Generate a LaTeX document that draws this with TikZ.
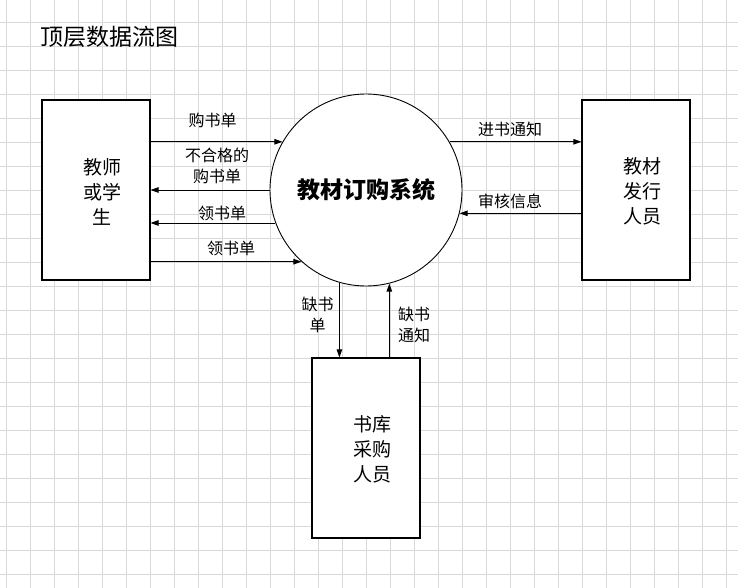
\documentclass[tikz,border=0pt]{standalone}
\usepackage{fontspec}
\usepackage{tikz}
\usetikzlibrary{positioning,calc,arrows.meta}
\newfontfamily\cjk{Noto Sans CJK SC}
\definecolor{gridline}{HTML}{d9d9d9}

\begin{document}
\begin{tikzpicture}[x=1pt, y=-1pt,
    entity/.style={draw, line width=1.1pt, fill=white, minimum width=108pt, minimum height=180pt, inner sep=0pt},
    proc/.style={draw, circle, line width=0.9pt, fill=white, minimum size=192pt, inner sep=0pt},
    flow/.style={line width=0.9pt, -{Triangle[length=8pt,width=5.5pt]}},
    boxtext/.style={align=center, inner sep=0pt, font=\cjk\fontsize{19}{25}\selectfont},
    flowlabel/.style={align=center, inner sep=0pt, font=\cjk\fontsize{16}{21}\selectfont}]
  \useasboundingbox (0,0) rectangle (738,588);

  % background grid (24px cells)
  \foreach \gx in {0,...,30} {
    \draw[gridline, line width=0.8pt] (6.5+24*\gx, 0) -- (6.5+24*\gx, 588);
  }
  \foreach \gy in {0,...,23} {
    \draw[gridline, line width=0.8pt] (0, 22.5+24*\gy) -- (738, 22.5+24*\gy);
  }

  \node[font=\cjk\fontsize{23}{28}\selectfont] (title) at (109, 36.5) {顶层数据流图};

  % process and external entities
  \node[proc, font=\cjk\bfseries\fontsize{23}{28}\selectfont] (sys) at (366, 190) {教材订购系统};
  \node[entity] (stu) at (96, 190) {};
  \node[entity] (pub) at (636, 190) {};
  \node[entity] (lib) at (366, 448) {};
  \node[boxtext] (stuT) at (102, 191.5) {教师\\或学\\生};
  \node[boxtext] (pubT) at (642, 191.5) {教材\\发行\\人员};
  \node[boxtext] (libT) at (372, 449.5) {书库\\采购\\人员};

  % left side flows
  \draw[flow] (stu.east |- sys.150) -- (sys.150);
  \node[flowlabel] (buy) at (212.5, 120) {购书单};
  \draw[flow] (sys.180) -- (stu.east |- sys.180);
  \node[flowlabel] (rej) at (217, 166) {不合格的\\购书单};
  \draw[flow] (sys.200.7) -- (stu.east |- sys.200.7);
  \node[flowlabel] (get1) at (222, 213) {领书单};
  \draw[flow] (stu.east |- sys.228.6) -- (sys.228.6);
  \node[flowlabel] (get2) at (231, 248.5) {领书单};

  % right side flows
  \draw[flow] (sys.30) -- (pub.west |- sys.30);
  \node[flowlabel] (inform) at (510, 129) {进书通知};
  \draw[flow] (pub.west |- sys.-14.5) -- (sys.-14.5);
  \node[flowlabel] (audit) at (510, 201.5) {审核信息};

  % bottom flows
  \draw[flow] (sys.254.9) -- (sys.254.9 |- lib.north);
  \node[flowlabel] (lack) at (317.5, 315) {缺书\\单};
  \draw[flow] (sys.284.5 |- lib.north) -- (sys.284.5);
  \node[flowlabel] (lackinfo) at (414, 325) {缺书\\通知};
\end{tikzpicture}
\end{document}
